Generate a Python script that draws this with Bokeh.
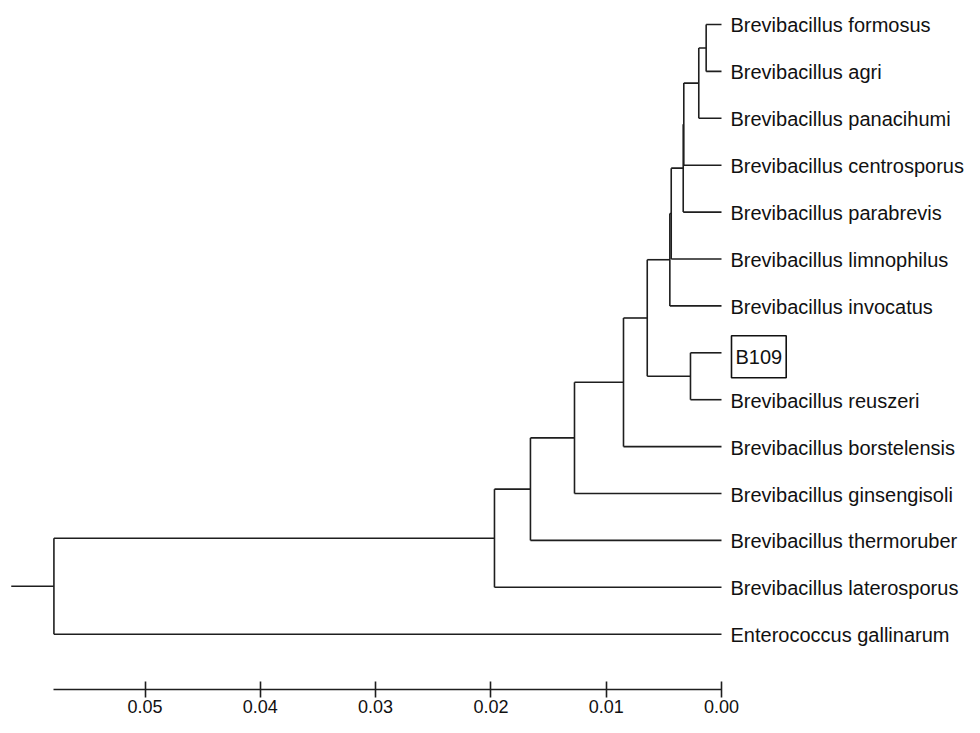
from bokeh.plotting import figure
from bokeh.models import Range1d, LinearAxis, FixedTicker, PrintfTickFormatter, ColumnDataSource
from bokeh.core.properties import value
from bokeh.embed import file_html
from bokeh.resources import INLINE

# ---- data -------------------------------------------------------------
leaf_names = [
    "Brevibacillus formosus",
    "Brevibacillus agri",
    "Brevibacillus panacihumi",
    "Brevibacillus centrosporus",
    "Brevibacillus parabrevis",
    "Brevibacillus limnophilus",
    "Brevibacillus invocatus",
    "B109",
    "Brevibacillus reuszeri",
    "Brevibacillus borstelensis",
    "Brevibacillus ginsengisoli",
    "Brevibacillus thermoruber",
    "Brevibacillus laterosporus",
    "Enterococcus gallinarum",
]
node_names = ["n1", "n2", "n3", "n4", "n5", "n6", "n7", "n8", "n9", "n10", "n11", "n12", "root"]
node_children = [
    ("L0", "L1"), ("n1", "L2"), ("n2", "L3"), ("n3", "L4"), ("n4", "L5"),
    ("n5", "L6"), ("L7", "L8"), ("n6", "n7"), ("n8", "L9"), ("n9", "L10"),
    ("n10", "L11"), ("n11", "L12"), ("n12", "L13"),
]
node_heights = [0.00133, 0.00197, 0.00327, 0.00332, 0.00436, 0.00448,
                0.00269, 0.00644, 0.0085, 0.01275, 0.01657, 0.01969, 0.0579]
root_stub = 0.0616
tick_values = [0.05, 0.04, 0.03, 0.02, 0.01, 0.00]
highlight = "B109"

# ---- tree layout --------------------------------------------------------
ypos = {f"L{i}": float(i) for i in range(len(leaf_names))}
hgt = {f"L{i}": 0.0 for i in range(len(leaf_names))}
parent = {}
for name, ch, h in zip(node_names, node_children, node_heights):
    ypos[name] = (ypos[ch[0]] + ypos[ch[1]]) / 2.0
    hgt[name] = h
    for c in ch:
        parent[c] = name

hx0, hx1, hy = [], [], []
for node, par in parent.items():
    hx0.append(hgt[par]); hx1.append(hgt[node]); hy.append(ypos[node])
hx0.append(root_stub); hx1.append(hgt["root"]); hy.append(ypos["root"])

vx, vy0, vy1 = [], [], []
for name, ch in zip(node_names, node_children):
    ys = [ypos[c] for c in ch]
    vx.append(hgt[name]); vy0.append(min(ys)); vy1.append(max(ys))

LINE = "#1e1e1e"
LW = 1.6

p = figure(width=964, height=717, output_backend="svg", toolbar_location=None,
           x_range=Range1d(0.062533, -0.021076), y_range=Range1d(14.776, -0.5117),
           x_axis_location=None, y_axis_location=None, min_border=0)
p.outline_line_color = None
p.grid.visible = False
p.background_fill_color = "white"

p.segment(x0=hx0, y0=hy, x1=hx1, y1=hy, line_color=LINE, line_width=LW)
p.segment(x0=vx, y0=vy0, x1=vx, y1=vy1, line_color=LINE, line_width=LW)

normal = [i for i, n in enumerate(leaf_names) if n != highlight]
boxed = [i for i, n in enumerate(leaf_names) if n == highlight]
src_n = ColumnDataSource(dict(x=[0.0] * len(normal), y=[float(i) for i in normal],
                              t=[leaf_names[i] for i in normal]))
src_b = ColumnDataSource(dict(x=[0.0] * len(boxed), y=[float(i) for i in boxed],
                              t=[leaf_names[i] for i in boxed]))
p.text(x="x", y="y", text="t", source=src_n, x_offset=9, y_offset=1,
       text_font=value("Liberation Sans"), text_font_size="20px",
       text_baseline="middle", text_align="left", text_color="#111111")
p.text(x="x", y="y", text="t", source=src_b, x_offset=10, y_offset=4,
       text_font=value("Liberation Sans"), text_font_size="20px",
       text_baseline="middle", text_align="left", text_color="#111111",
       border_line_color="#111111", border_line_width=1.6,
       padding=dict(left=4, right=4, top=10, bottom=10))

ax = LinearAxis(fixed_location=14.179, bounds=(0.0, node_heights[-1]),
                ticker=FixedTicker(ticks=tick_values),
                formatter=PrintfTickFormatter(format="%.2f"),
                major_tick_in=8, major_tick_out=8, minor_tick_in=0, minor_tick_out=0,
                major_label_standoff=2,
                axis_line_color=LINE, axis_line_width=LW,
                major_tick_line_color=LINE, major_tick_line_width=LW,
                major_label_text_font="Liberation Sans",
                major_label_text_font_size="18px", major_label_text_color="#111111")
p.add_layout(ax, "below")

open("out.html", "w").write(file_html(p, INLINE))
